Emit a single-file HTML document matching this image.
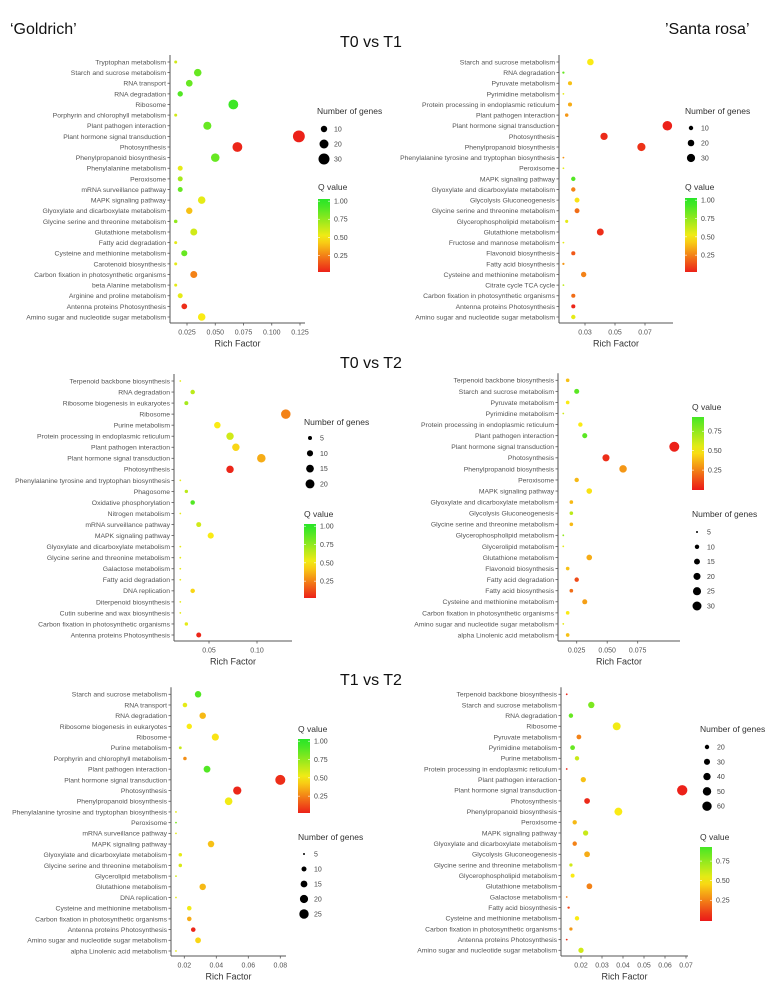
<!DOCTYPE html>
<html><head><meta charset="utf-8"><style>
html,body{margin:0;padding:0;background:#fff;}
svg{display:block;font-family:"Liberation Sans",sans-serif;}
.cat{font-size:6.8px;fill:#555;}
.tick{font-size:7px;fill:#555;}
.axt{font-size:9px;fill:#333;}
.leg{font-size:8.5px;fill:#333;}
.legs{font-size:7px;fill:#444;}
.title{font-family:"Liberation Sans Narrow","Liberation Sans",sans-serif;font-size:16px;fill:#111;}
</style></head><body>
<svg id="fig" width="778" height="988" viewBox="0 0 778 988">
<text x="10" y="34" class="title">‘Goldrich’</text>
<text x="665" y="34" class="title">’Santa rosa’</text>
<text x="340" y="47" class="title">T0 vs T1</text>
<text x="340" y="368" class="title">T0 vs T2</text>
<text x="340" y="685" class="title">T1 vs T2</text>
</svg>
<script>
// ---------- Panel 1: Goldrich T0 vs T1 ----------
const p1Cats=["Tryptophan metabolism","Starch and sucrose metabolism","RNA transport","RNA degradation","Ribosome","Porphyrin and chlorophyll metabolism","Plant pathogen interaction","Plant hormone signal transduction","Photosynthesis","Phenylpropanoid biosynthesis","Phenylalanine metabolism","Peroxisome","mRNA surveillance pathway","MAPK signaling pathway","Glyoxylate and dicarboxylate metabolism","Glycine serine and threonine metabolism","Glutathione metabolism","Fatty acid degradation","Cysteine and methionine metabolism","Carotenoid biosynthesis","Carbon fixation in photosynthetic organisms","beta Alanine metabolism","Arginine and proline metabolism","Antenna proteins Photosynthesis","Amino sugar and nucleotide sugar metabolism"];
const p1Rich=[0.015,0.0345,0.027,0.019,0.066,0.015,0.043,0.124,0.0696,0.050,0.019,0.019,0.019,0.038,0.027,0.015,0.031,0.015,0.0226,0.015,0.031,0.015,0.019,0.0226,0.038];
const p1Genes=[2,14,11,7,24,2,16,35,24,18,6,6,6,14,10,3,12,2,9,2,12,2,6,8,14];
const p1Q=[0.6,0.85,0.85,0.9,0.95,0.6,0.85,0.02,0.03,0.85,0.55,0.7,0.85,0.55,0.4,0.75,0.6,0.55,0.85,0.55,0.25,0.55,0.55,0.05,0.5];
const p1Ticks=[0.025,0.050,0.075,0.100,0.125];
const p1TickLabels=["0.025","0.050","0.075","0.100","0.125"];
const p1SizeLegend=[10,20,30];
const p1QTicks=[1.00,0.75,0.50,0.25];

// ---------- Panel 2: Santa rosa T0 vs T1 ----------
const p2Cats=["Starch and sucrose metabolism","RNA degradation","Pyruvate metabolism","Pyrimidine metabolism","Protein processing in endoplasmic reticulum","Plant pathogen interaction","Plant hormone signal transduction","Photosynthesis","Phenylpropanoid biosynthesis","Phenylalanine tyrosine and tryptophan biosynthesis","Peroxisome","MAPK signaling pathway","Glyoxylate and dicarboxylate metabolism","Glycolysis Gluconeogenesis","Glycine serine and threonine metabolism","Glycerophospholipid metabolism","Glutathione metabolism","Fructose and mannose metabolism","Flavonoid biosynthesis","Fatty acid biosynthesis","Cysteine and methionine metabolism","Citrate cycle TCA cycle","Carbon fixation in photosynthetic organisms","Antenna proteins Photosynthesis","Amino sugar and nucleotide sugar metabolism"];
const p2Rich=[0.0336,0.0156,0.020,0.0156,0.020,0.0178,0.0849,0.0427,0.0676,0.0156,0.0156,0.0222,0.0222,0.0247,0.0247,0.0178,0.0402,0.0156,0.0222,0.0156,0.0291,0.0156,0.0222,0.0222,0.0222];
const p2Genes=[20,4,9,3,9,7,40,24,30,3,3,10,10,12,12,6,22,3,9,4,14,3,9,9,10];
const p2Q=[0.5,0.85,0.4,0.55,0.35,0.3,0.02,0.04,0.06,0.3,0.55,0.9,0.25,0.48,0.2,0.55,0.05,0.55,0.15,0.3,0.25,0.65,0.2,0.03,0.55];
const p2Ticks=[0.03,0.05,0.07];
const p2TickLabels=["0.03","0.05","0.07"];
const p2SizeLegend=[10,20,30];
const p2QTicks=[1.00,0.75,0.50,0.25];

// ---------- Panel 3: Goldrich T0 vs T2 ----------
const p3Cats=["Terpenoid backbone biosynthesis","RNA degradation","Ribosome biogenesis in eukaryotes","Ribosome","Purine metabolism","Protein processing in endoplasmic reticulum","Plant pathogen interaction","Plant hormone signal transduction","Photosynthesis","Phenylalanine tyrosine and tryptophan biosynthesis","Phagosome","Oxidative phosphorylation","Nitrogen metabolism","mRNA surveillance pathway","MAPK signaling pathway","Glyoxylate and dicarboxylate metabolism","Glycine serine and threonine metabolism","Galactose metabolism","Fatty acid degradation","DNA replication","Diterpenoid biosynthesis","Cutin suberine and wax biosynthesis","Carbon fixation in photosynthetic organisms","Antenna proteins Photosynthesis"];
const p3Rich=[0.0201,0.033,0.0264,0.130,0.0587,0.0719,0.078,0.1045,0.0719,0.0201,0.0264,0.033,0.0201,0.0393,0.0518,0.0201,0.0201,0.0201,0.0201,0.033,0.0201,0.0201,0.0264,0.0393];
const p3Genes=[1,6,5,22,11,14,14,18,14,1,4,6,1,7,10,1,1,1,1,6,1,1,4,7];
const p3Q=[0.55,0.65,0.7,0.25,0.5,0.6,0.45,0.35,0.03,0.55,0.65,0.9,0.55,0.6,0.5,0.55,0.55,0.55,0.55,0.45,0.55,0.55,0.55,0.03];
const p3Ticks=[0.05,0.10];
const p3TickLabels=["0.05","0.10"];
const p3SizeLegend=[5,10,15,20];
const p3QTicks=[1.00,0.75,0.50,0.25];

// ---------- Panel 4: Santa rosa T0 vs T2 ----------
const p4Cats=["Terpenoid backbone biosynthesis","Starch and sucrose metabolism","Pyruvate metabolism","Pyrimidine metabolism","Protein processing in endoplasmic reticulum","Plant pathogen interaction","Plant hormone signal transduction","Photosynthesis","Phenylpropanoid biosynthesis","Peroxisome","MAPK signaling pathway","Glyoxylate and dicarboxylate metabolism","Glycolysis Gluconeogenesis","Glycine serine and threonine metabolism","Glycerophospholipid metabolism","Glycerolipid metabolism","Glutathione metabolism","Flavonoid biosynthesis","Fatty acid degradation","Fatty acid biosynthesis","Cysteine and methionine metabolism","Carbon fixation in photosynthetic organisms","Amino sugar and nucleotide sugar metabolism","alpha Linolenic acid metabolism"];
const p4Rich=[0.0176,0.025,0.0176,0.014,0.028,0.0316,0.105,0.049,0.063,0.025,0.0353,0.0206,0.0206,0.0206,0.014,0.014,0.0353,0.0176,0.025,0.0206,0.0316,0.0176,0.014,0.0176];
const p4Genes=[8,12,8,3,10,12,36,20,22,10,14,8,8,8,3,3,14,8,10,8,12,8,3,8];
const p4Q=[0.4,0.88,0.5,0.6,0.5,0.88,0.02,0.05,0.3,0.38,0.48,0.38,0.65,0.38,0.75,0.55,0.35,0.4,0.12,0.2,0.32,0.5,0.55,0.4];
const p4Ticks=[0.025,0.050,0.075];
const p4TickLabels=["0.025","0.050","0.075"];
const p4SizeLegend=[5,10,15,20,25,30];
const p4QTicks=[0.75,0.50,0.25];

// ---------- Panel 5: Goldrich T1 vs T2 ----------
const p5Cats=["Starch and sucrose metabolism","RNA transport","RNA degradation","Ribosome biogenesis in eukaryotes","Ribosome","Purine metabolism","Porphyrin and chlorophyll metabolism","Plant pathogen interaction","Plant hormone signal transduction","Photosynthesis","Phenylpropanoid biosynthesis","Phenylalanine tyrosine and tryptophan biosynthesis","Peroxisome","mRNA surveillance pathway","MAPK signaling pathway","Glyoxylate and dicarboxylate metabolism","Glycine serine and threonine metabolism","Glycerolipid metabolism","Glutathione metabolism","DNA replication","Cysteine and methionine metabolism","Carbon fixation in photosynthetic organisms","Antenna proteins Photosynthesis","Amino sugar and nucleotide sugar metabolism","alpha Linolenic acid metabolism"];
const p5Rich=[0.0286,0.0204,0.0315,0.0231,0.0394,0.0175,0.0204,0.0342,0.080,0.0531,0.0477,0.0148,0.0148,0.0148,0.0367,0.0175,0.0175,0.0148,0.0315,0.0148,0.0231,0.0231,0.0256,0.0286,0.0148];
const p5Genes=[14,9,14,11,16,6,7,15,28,20,18,1,1,1,14,7,7,1,14,1,9,9,9,12,1];
const p5Q=[0.9,0.55,0.38,0.5,0.48,0.62,0.28,0.9,0.05,0.03,0.52,0.55,0.8,0.55,0.4,0.55,0.58,0.6,0.38,0.55,0.52,0.35,0.03,0.45,0.55];
const p5Ticks=[0.02,0.04,0.06,0.08];
const p5TickLabels=["0.02","0.04","0.06","0.08"];
const p5SizeLegend=[5,10,15,20,25];
const p5QTicks=[1.00,0.75,0.50,0.25];

// ---------- Panel 6: Santa rosa T1 vs T2 ----------
const p6Cats=["Terpenoid backbone biosynthesis","Starch and sucrose metabolism","RNA degradation","Ribosome","Pyruvate metabolism","Pyrimidine metabolism","Purine metabolism","Protein processing in endoplasmic reticulum","Plant pathogen interaction","Plant hormone signal transduction","Photosynthesis","Phenylpropanoid biosynthesis","Peroxisome","MAPK signaling pathway","Glyoxylate and dicarboxylate metabolism","Glycolysis Gluconeogenesis","Glycine serine and threonine metabolism","Glycerophospholipid metabolism","Glutathione metabolism","Galactose metabolism","Fatty acid biosynthesis","Cysteine and methionine metabolism","Carbon fixation in photosynthetic organisms","Antenna proteins Photosynthesis","Amino sugar and nucleotide sugar metabolism"];
const p6Rich=[0.0132,0.0249,0.0152,0.037,0.019,0.016,0.0181,0.0132,0.0211,0.0682,0.0229,0.0378,0.017,0.0222,0.017,0.0229,0.0152,0.016,0.024,0.0132,0.0141,0.0181,0.0152,0.0132,0.020];
const p6Genes=[5,32,20,45,22,22,20,5,25,70,28,45,20,25,20,28,15,18,28,5,12,20,15,5,25];
const p6Q=[0.03,0.8,0.85,0.52,0.25,0.85,0.62,0.03,0.4,0.02,0.04,0.5,0.38,0.62,0.25,0.35,0.6,0.5,0.25,0.25,0.1,0.5,0.3,0.05,0.6];
const p6Ticks=[0.02,0.03,0.04,0.05,0.06,0.07];
const p6TickLabels=["0.02","0.03","0.04","0.05","0.06","0.07"];
const p6SizeLegend=[20,30,40,50,60];
const p6QTicks=[0.75,0.50,0.25];

const NS="http://www.w3.org/2000/svg";
const svg=document.getElementById('fig');
function mk(tag,attrs,parent){const e=document.createElementNS(NS,tag);for(const k in attrs)e.setAttribute(k,attrs[k]);(parent||svg).appendChild(e);return e;}
function qColor(q){
  q=Math.max(0,Math.min(1,q));
  const R=[235,25,25],Y=[250,235,20],G=[40,230,40];
  let a,b,t;
  if(q<0.5){a=R;b=Y;t=q/0.5;}else{a=Y;b=G;t=(q-0.5)/0.5;}
  return 'rgb('+a.map((v,i)=>Math.round(v+(b[i]-v)*t)).join(',')+')';
}

const panels=[
 {id:'p1',cats:p1Cats,rich:p1Rich,genes:p1Genes,q:p1Q,ticks:p1Ticks,tl:p1TickLabels,sl:p1SizeLegend,qt:p1QTicks,
  ax:170,right:305,y0:62,y1:317,yb:323,v1:0.025,px1:187,v2:0.125,px2:300,
  s:[10,3.2,30,5.5],ng:{x:317,y:114,dx:324,dy0:129,ddy:15},qb:{x:318,y:190,top:199,bot:272,qTop:1.03,qBot:0.02}},
 {id:'p2',cats:p2Cats,rich:p2Rich,genes:p2Genes,q:p2Q,ticks:p2Ticks,tl:p2TickLabels,sl:p2SizeLegend,qt:p2QTicks,
  ax:559,right:673,y0:62,y1:317,yb:323,v1:0.03,px1:585,v2:0.07,px2:645,
  s:[10,2.2,30,4.1],ng:{x:685,y:114,dx:691,dy0:128,ddy:15},qb:{x:685,y:190,top:198,bot:272,qTop:1.03,qBot:0.02}},
 {id:'p3',cats:p3Cats,rich:p3Rich,genes:p3Genes,q:p3Q,ticks:p3Ticks,tl:p3TickLabels,sl:p3SizeLegend,qt:p3QTicks,
  ax:174,right:292,y0:381,y1:635,yb:641,v1:0.05,px1:209,v2:0.10,px2:257,
  s:[5,2,20,4.5],ng:{x:304,y:425,dx:310,dy0:438,ddy:15.3},qb:{x:304,y:517,top:524,bot:598,qTop:1.03,qBot:0.02}},
 {id:'p4',cats:p4Cats,rich:p4Rich,genes:p4Genes,q:p4Q,ticks:p4Ticks,tl:p4TickLabels,sl:p4SizeLegend,qt:p4QTicks,
  ax:558,right:680,y0:380.3,y1:635,yb:641,v1:0.025,px1:576.7,v2:0.075,px2:637.7,
  s:[5,1,30,4.5],ng:{x:692,y:517,dx:697,dy0:532,ddy:14.8},qb:{x:692,y:410,top:417,bot:490,qTop:0.933,qBot:-0.006}},
 {id:'p5',cats:p5Cats,rich:p5Rich,genes:p5Genes,q:p5Q,ticks:p5Ticks,tl:p5TickLabels,sl:p5SizeLegend,qt:p5QTicks,
  ax:171,right:286,y0:694.3,y1:951,yb:956,v1:0.02,px1:184.3,v2:0.08,px2:280.3,
  s:[5,1,25,4.7],ng:{x:298,y:840,dx:304,dy0:854,ddy:15},qb:{x:298,y:732,top:739,bot:813,qTop:1.03,qBot:0.02}},
 {id:'p6',cats:p6Cats,rich:p6Rich,genes:p6Genes,q:p6Q,ticks:p6Ticks,tl:p6TickLabels,sl:p6SizeLegend,qt:p6QTicks,
  ax:561,right:688,y0:694.3,y1:950.3,yb:956,v1:0.02,px1:581,v2:0.07,px2:686,
  s:[20,2.2,60,4.7],ng:{x:700,y:732,dx:707,dy0:747,ddy:14.8},qb:{x:700,y:840,top:847,bot:921,qTop:0.93,qBot:-0.015}}
];

function drawPanel(P){
  const g=mk('g',{});
  
  
  const xS=v=>P.px1+(v-P.v1)*(P.px2-P.px1)/(P.v2-P.v1);
  const n=P.cats.length;
  const yS=i=>P.y0+i*(P.y1-P.y0)/(n-1);
  const [n1,r1,n2,r2]=P.s;
  const rS=c=>Math.max(0.9,Math.sqrt(Math.max(0,r1*r1+(r2*r2-r1*r1)*(c-n1)/(n2-n1))));
  const top=P.y0-7;
  const yax=mk('line',{x1:P.ax,y1:top,x2:P.ax,y2:P.yb,stroke:'#555','stroke-width':1},g);
  
  
  const xax=mk('line',{x1:P.ax,y1:P.yb,x2:P.right,y2:P.yb,stroke:'#555','stroke-width':1},g);
  
  
  P.cats.forEach((c,i)=>{
    const y=yS(i);
    mk('line',{x1:P.ax-2.5,y1:y,x2:P.ax,y2:y,stroke:'#555','stroke-width':0.8},g);
    const t=mk('text',{x:P.ax-4,y:y+2.4,'text-anchor':'end',class:'cat'},g);
    t.textContent=c;
    
    
  });
  P.ticks.forEach((v,i)=>{
    const x=xS(v);
    mk('line',{x1:x,y1:P.yb,x2:x,y2:P.yb+2.5,stroke:'#555','stroke-width':0.8},g);
    const t=mk('text',{x:x,y:P.yb+11.5,'text-anchor':'middle',class:'tick'},g);
    t.textContent=P.tl[i];
    
    
  });
  const at=mk('text',{x:(P.ax+P.right)/2,y:P.yb+23.5,'text-anchor':'middle',class:'axt'},g);
  at.textContent='Rich Factor';
  
  
  // points
  P.cats.forEach((c,i)=>{
    const d=mk('circle',{cx:xS(P.rich[i]),cy:yS(i),r:rS(P.genes[i]),fill:qColor(P.q[i])},g);
    
    
  });
  // size legend
  const ngT=mk('text',{x:P.ng.x,y:P.ng.y,class:'leg'},g);
  ngT.textContent='Number of genes';
  
  
  P.sl.forEach((v,i)=>{
    const y=P.ng.dy0+i*P.ng.ddy;
    const d=mk('circle',{cx:P.ng.dx,cy:y,r:rS(v),fill:'#000'},g);
    
    
    const t=mk('text',{x:P.ng.dx+10,y:y+2.5,class:'legs'},g);
    t.textContent=String(v);
    
    
  });
  // q colorbar
  const qb=P.qb;
  const qT=mk('text',{x:qb.x,y:qb.y,class:'leg'},g);
  qT.textContent='Q value';
  
  
  const gid='grad'+P.id;
  const defs=mk('defs',{},g);
  const lg=mk('linearGradient',{id:gid,x1:0,y1:0,x2:0,y2:1},defs);
  for(let k=0;k<=10;k++){
    const q=qb.qTop+(qb.qBot-qb.qTop)*k/10;
    mk('stop',{offset:(k*10)+'%','stop-color':qColor(q)},lg);
  }
  const bar=mk('rect',{x:qb.x,y:qb.top,width:12,height:qb.bot-qb.top,fill:'url(#'+gid+')'},g);
  
  
  const qy=q=>qb.top+(qb.qTop-q)*(qb.bot-qb.top)/(qb.qTop-qb.qBot);
  P.qt.forEach(q=>{
    const y=qy(q);
    mk('line',{x1:qb.x,y1:y,x2:qb.x+2,y2:y,stroke:'#fff','stroke-width':0.6},g);
    mk('line',{x1:qb.x+10,y1:y,x2:qb.x+12,y2:y,stroke:'#fff','stroke-width':0.6},g);
    const t=mk('text',{x:qb.x+16,y:y+2.5,class:'legs'},g);
    t.textContent=q.toFixed(2);
    
    
  });
}
panels.forEach(drawPanel);
</script>
</body></html>
